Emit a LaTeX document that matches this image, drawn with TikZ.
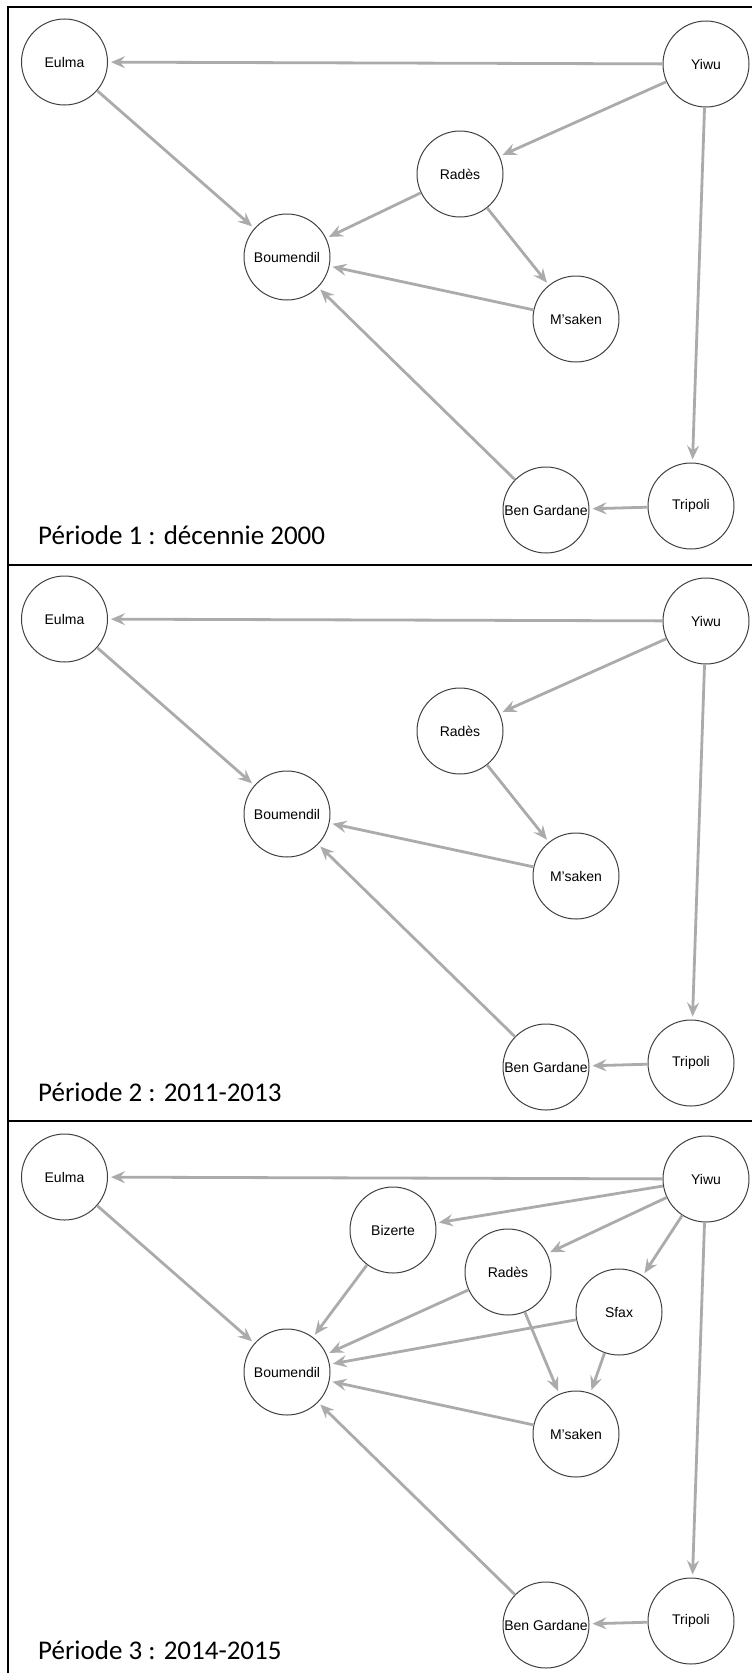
\documentclass[tikz,border=0pt]{standalone}
\usepackage{fontspec}
\setmainfont{Liberation Sans}
\newfontfamily\titrefont{Carlito}
\usetikzlibrary{arrows.meta}

\tikzset{
    ville/.style={circle, draw=black!75, line width=1pt, fill=white,
        minimum size=86pt, inner sep=0pt,
        font=\fontsize{14}{16}\selectfont},
    lien/.style={->, draw=black!33, line width=2.8pt, shorten >=3pt},
    titre/.style={anchor=base west, inner sep=0pt,
        font=\titrefont\fontsize{27}{30}\selectfont}
}

\begin{document}
\begin{tikzpicture}[x=1pt, y=-1pt, >={Stealth[length=14pt,width=12pt,inset=5pt]}]

    \useasboundingbox (0,0) rectangle (752,1673);

    % frame
    \draw[line width=2.8pt] (8,1680) -- (8,7) -- (760,7);
    \draw[line width=2.8pt] (8,565) -- (760,565);
    \draw[line width=2.8pt] (8,1121) -- (760,1121);

    % cities and links found in every period
    \foreach \p/\dy/\rx/\ry in {1/0/460/174, 2/557/460/174, 3/1115/508/157}{
        \node[ville] (eulma\p) at (64.5,62+\dy) {Eulma};
        \node[ville] (yiwu\p) at (706,64+\dy) {Yiwu};
        \node[ville] (rades\p) at (\rx,\ry+\dy) {Radès};
        \node[ville] (boumendil\p) at (287,257+\dy) {Boumendil};
        \node[ville] (msaken\p) at (576,319+\dy) {M'saken};
        \node[ville] (bengardane\p) at (546,510+\dy) {Ben Gardane};
        \node[ville] (tripoli\p) at (691,506+\dy) {Tripoli};

        \foreach \a/\b in {
            yiwu/eulma,
            eulma/boumendil,
            yiwu/rades,
            rades/msaken,
            msaken/boumendil,
            bengardane/boumendil,
            yiwu/tripoli,
            tripoli/bengardane}{
            \draw[lien] (\a\p) -- (\b\p);
        }
    }

    % period 1 only
    \draw[lien] (rades1) -- (boumendil1);

    % period 3 only
    \node[ville] (bizerte3) at (393,115+1115) {Bizerte};
    \node[ville] (sfax3) at (619,197+1115) {Sfax};
    \foreach \a/\b in {
        yiwu/bizerte,
        yiwu/sfax,
        bizerte/boumendil,
        rades/boumendil,
        sfax/boumendil,
        sfax/msaken}{
        \draw[lien] (\a3) -- (\b3);
    }

    % titles
    \node[titre] (titre1) at (38,544) {Période 1 : décennie 2000};
    \node[titre] (titre2) at (38,544+557) {Période 2 : 2011-2013};
    \node[titre] (titre3) at (38,544+1115) {Période 3 : 2014-2015};
\end{tikzpicture}
\end{document}
